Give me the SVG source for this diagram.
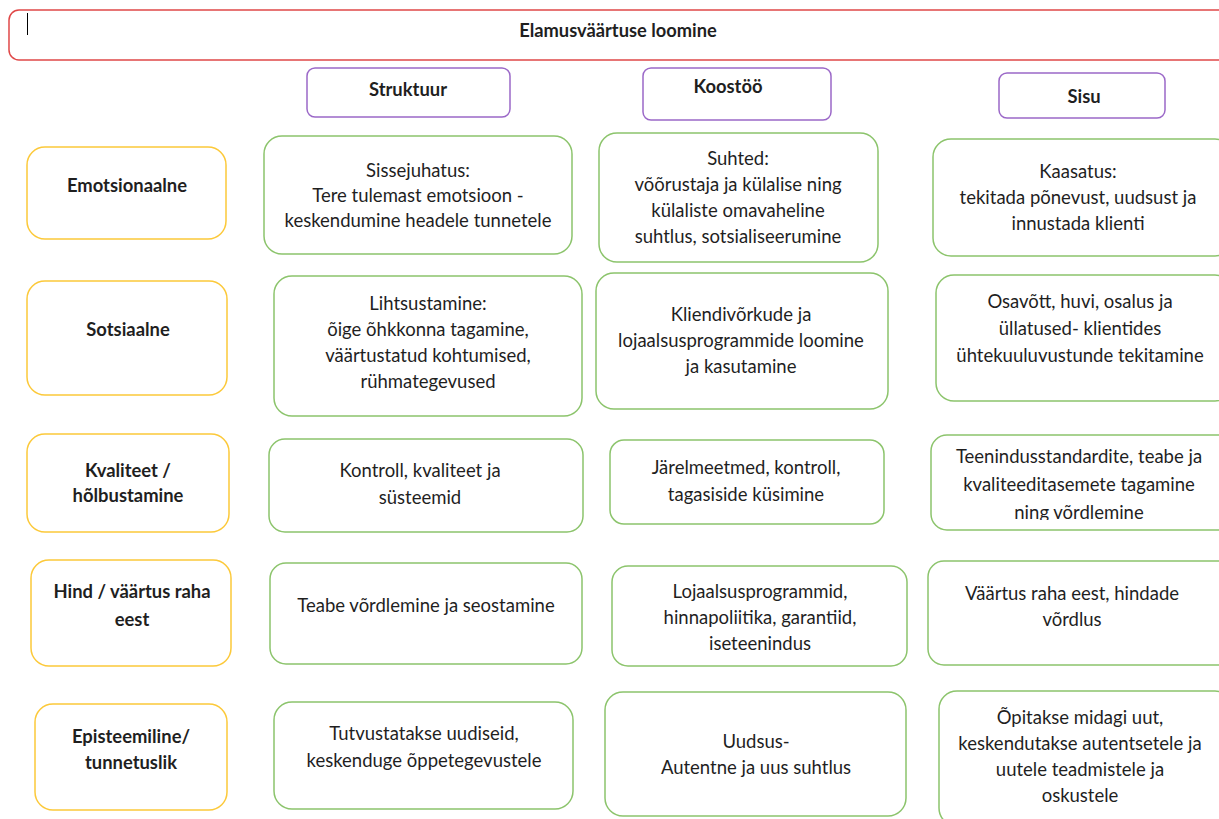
<svg xmlns="http://www.w3.org/2000/svg" width="1219" height="819" viewBox="0 0 1219 819">
<style>
  text { font-family: "Lato", "Open Sans", "Liberation Sans", sans-serif; fill: #1f1f1f; text-anchor: middle; }
  .b { font-weight: bold; font-size: 18.4px; }
  .t { font-size: 18.5px; }
  .title { font-weight: bold; font-size: 18.3px; }
  .red { fill: #fff; stroke: #e04848; stroke-width: 1.5; }
  .pur { fill: #fff; stroke: #9b68c8; stroke-width: 1.5; }
  .yel { fill: #fff; stroke: #fcc93a; stroke-width: 1.5; }
  .grn { fill: #fff; stroke: #8cc46c; stroke-width: 1.5; }
</style>
<defs>
  <clipPath id="clipK3"><rect x="931" y="435" width="300" height="85"/></clipPath>
</defs>
<rect width="1219" height="819" fill="#fff"/>

<g id="title">
  <rect class="red" x="9" y="10" width="1225" height="50" rx="10"/>
  <line x1="27.5" y1="13" x2="27.5" y2="35" stroke="#000" stroke-width="1"/>
  <text class="title" x="618" y="37">Elamusväärtuse loomine</text>
</g>

<g id="h-struktuur">
  <rect class="pur" x="307" y="68" width="203" height="49" rx="8"/>
  <text class="b" x="408" y="96">Struktuur</text>
</g>
<g id="h-koostoo">
  <rect class="pur" x="643" y="68" width="188" height="52" rx="8"/>
  <text class="b" x="728" y="93">Koostöö</text>
</g>
<g id="h-sisu">
  <rect class="pur" x="999" y="73" width="166" height="45" rx="8"/>
  <text class="b" x="1084" y="103">Sisu</text>
</g>

<g id="r-emotsionaalne">
  <rect class="yel" x="27" y="147" width="199" height="92" rx="18"/>
  <text class="b" x="127" y="192">Emotsionaalne</text>
</g>
<g id="r-sotsiaalne">
  <rect class="yel" x="27" y="281" width="200" height="114" rx="18"/>
  <text class="b" x="128" y="336">Sotsiaalne</text>
</g>
<g id="r-kvaliteet">
  <rect class="yel" x="27" y="434" width="202" height="98" rx="18"/>
  <text class="b" x="128" y="477">Kvaliteet /</text>
  <text class="b" x="128" y="502">hõlbustamine</text>
</g>
<g id="r-hind">
  <rect class="yel" x="31" y="560" width="200" height="106" rx="18"/>
  <text class="b" x="132" y="598">Hind / väärtus raha</text>
  <text class="b" x="132" y="626">eest</text>
</g>
<g id="r-episteemiline">
  <rect class="yel" x="35" y="704" width="192" height="106" rx="18"/>
  <text class="b" x="131" y="743">Episteemiline/</text>
  <text class="b" x="131" y="769">tunnetuslik</text>
</g>

<g id="c-emo-struktuur">
  <rect class="grn" x="264" y="136" width="308" height="118" rx="18"/>
  <text class="t" x="418" y="177">Sissejuhatus:</text>
  <text class="t" x="418" y="202">Tere tulemast emotsioon -</text>
  <text class="t" x="418" y="227">keskendumine headele tunnetele</text>
</g>
<g id="c-emo-koostoo">
  <rect class="grn" x="599" y="133" width="279" height="129" rx="18"/>
  <text class="t" x="738" y="165">Suhted:</text>
  <text class="t" x="738" y="191">võõrustaja ja külalise ning</text>
  <text class="t" x="738" y="217">külaliste omavaheline</text>
  <text class="t" x="738" y="243">suhtlus, sotsialiseerumine</text>
</g>
<g id="c-emo-sisu">
  <rect class="grn" x="933" y="139" width="300" height="117" rx="18"/>
  <text class="t" x="1078" y="178">Kaasatus:</text>
  <text class="t" x="1078" y="204">tekitada põnevust, uudsust ja</text>
  <text class="t" x="1078" y="230">innustada klienti</text>
</g>

<g id="c-sots-struktuur">
  <rect class="grn" x="274" y="276" width="308" height="140" rx="18"/>
  <text class="t" x="428" y="310">Lihtsustamine:</text>
  <text class="t" x="428" y="336">õige õhkkonna tagamine,</text>
  <text class="t" x="428" y="362">väärtustatud kohtumised,</text>
  <text class="t" x="428" y="388">rühmategevused</text>
</g>
<g id="c-sots-koostoo">
  <rect class="grn" x="596" y="273" width="292" height="136" rx="18"/>
  <text class="t" x="741" y="321">Kliendivõrkude ja</text>
  <text class="t" x="741" y="347">lojaalsusprogrammide loomine</text>
  <text class="t" x="741" y="373">ja kasutamine</text>
</g>
<g id="c-sots-sisu">
  <rect class="grn" x="936" y="275" width="297" height="126" rx="18"/>
  <text class="t" x="1080" y="308">Osavõtt, huvi, osalus ja</text>
  <text class="t" x="1080" y="335">üllatused- klientides</text>
  <text class="t" x="1080" y="362">ühtekuuluvustunde tekitamine</text>
</g>

<g id="c-kval-struktuur">
  <rect class="grn" x="269" y="439" width="314" height="93" rx="16"/>
  <text class="t" x="420" y="477">Kontroll, kvaliteet ja</text>
  <text class="t" x="420" y="504">süsteemid</text>
</g>
<g id="c-kval-koostoo">
  <rect class="grn" x="610" y="440" width="274" height="84" rx="14"/>
  <text class="t" x="746" y="474">Järelmeetmed, kontroll,</text>
  <text class="t" x="746" y="501">tagasiside küsimine</text>
</g>
<g id="c-kval-sisu">
  <rect class="grn" x="931" y="435" width="302" height="95" rx="16"/>
  <g clip-path="url(#clipK3)">
    <text class="t" x="1079" y="463">Teenindusstandardite, teabe ja</text>
    <text class="t" x="1079" y="491">kvaliteeditasemete tagamine</text>
    <text class="t" x="1079" y="519">ning võrdlemine</text>
  </g>
</g>

<g id="c-hind-struktuur">
  <rect class="grn" x="270" y="563" width="312" height="101" rx="16"/>
  <text class="t" x="426" y="612">Teabe võrdlemine ja seostamine</text>
</g>
<g id="c-hind-koostoo">
  <rect class="grn" x="612" y="566" width="295" height="100" rx="16"/>
  <text class="t" x="760" y="598">Lojaalsusprogrammid,</text>
  <text class="t" x="760" y="624">hinnapoliitika, garantiid,</text>
  <text class="t" x="760" y="650">iseteenindus</text>
</g>
<g id="c-hind-sisu">
  <rect class="grn" x="928" y="561" width="305" height="104" rx="16"/>
  <text class="t" x="1072" y="600">Väärtus raha eest, hindade</text>
  <text class="t" x="1072" y="626">võrdlus</text>
</g>

<g id="c-epi-struktuur">
  <rect class="grn" x="274" y="702" width="299" height="107" rx="18"/>
  <text class="t" x="424" y="740">Tutvustatakse uudiseid,</text>
  <text class="t" x="424" y="767">keskenduge õppetegevustele</text>
</g>
<g id="c-epi-koostoo">
  <rect class="grn" x="605" y="692" width="301" height="124" rx="18"/>
  <text class="t" x="756" y="748">Uudsus-</text>
  <text class="t" x="756" y="774">Autentne ja uus suhtlus</text>
</g>
<g id="c-epi-sisu">
  <rect class="grn" x="939" y="691" width="294" height="135" rx="18"/>
  <text class="t" x="1080" y="724">Õpitakse midagi uut,</text>
  <text class="t" x="1080" y="750">keskendutakse autentsetele ja</text>
  <text class="t" x="1080" y="776">uutele teadmistele ja</text>
  <text class="t" x="1080" y="802">oskustele</text>
</g>

<g id="connectors"></g>
</svg>
